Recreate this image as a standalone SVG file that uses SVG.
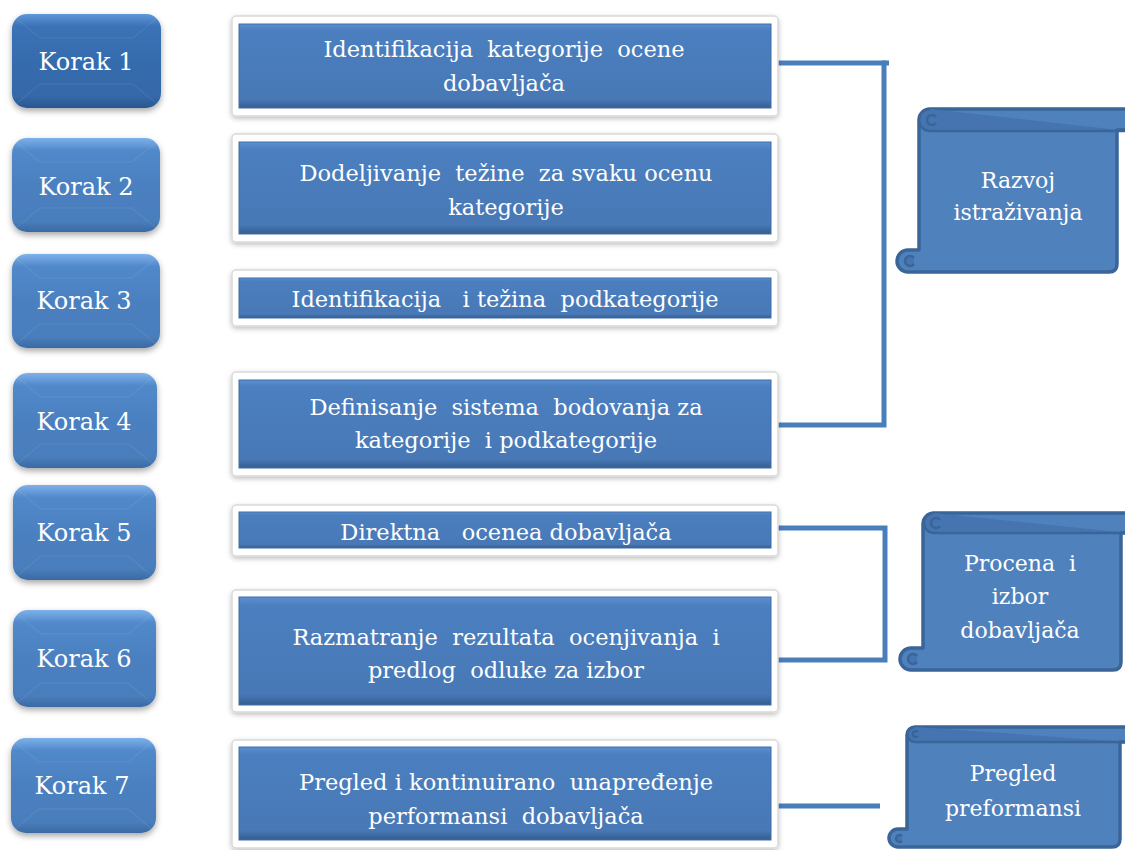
<svg xmlns="http://www.w3.org/2000/svg" width="1125" height="850" viewBox="0 0 1125 850">
  <defs>
    <linearGradient id="stepFill" x1="0" y1="0" x2="0" y2="1">
      <stop offset="0" stop-color="#7db1ea"/>
      <stop offset="0.13" stop-color="#5189ca"/>
      <stop offset="0.5" stop-color="#4b80c0"/>
      <stop offset="0.88" stop-color="#4a7ebd"/>
      <stop offset="1" stop-color="#3b6aa3"/>
    </linearGradient>
    <linearGradient id="stepFillActive" x1="0" y1="0" x2="0" y2="1">
      <stop offset="0" stop-color="#5f97db"/>
      <stop offset="0.13" stop-color="#3b72b6"/>
      <stop offset="0.5" stop-color="#356cae"/>
      <stop offset="0.88" stop-color="#3468a8"/>
      <stop offset="1" stop-color="#2a578e"/>
    </linearGradient>
    <linearGradient id="barFill" x1="0" y1="0" x2="0" y2="1">
      <stop offset="0" stop-color="#5b8fcf"/>
      <stop offset="0.08" stop-color="#4b7fbf"/>
      <stop offset="0.9" stop-color="#4878b6"/>
      <stop offset="1" stop-color="#345d91"/>
    </linearGradient>
    <filter id="shadow" x="-10%" y="-10%" width="120%" height="130%">
      <feDropShadow dx="0" dy="3" stdDeviation="3" flood-color="#000" flood-opacity="0.35"/>
    </filter>
    <filter id="softShadow" x="-5%" y="-10%" width="110%" height="130%">
      <feDropShadow dx="0" dy="2" stdDeviation="2.5" flood-color="#000" flood-opacity="0.25"/>
    </filter>
    <style>
      .step { fill: url(#stepFill); filter: url(#shadow); }
      .step.active { fill: url(#stepFillActive); }
      .facet { fill: none; stroke: #ffffff; stroke-opacity: 0.06; stroke-width: 1.5; }
      .frame { fill: #ffffff; stroke: #d9d9d9; stroke-width: 1.5; filter: url(#softShadow); }
      .bar { fill: url(#barFill); stroke: #3f6fa8; stroke-width: 1; }
      .lbl { fill: #ffffff; text-anchor: middle; font-family: "DejaVu Serif", "Liberation Serif", serif; }
      .k { font-size: 24px; }
      .m { font-size: 22.5px; }
      .s { font-size: 22px; }
      .wire { fill: none; stroke: #4a7ebb; stroke-width: 5; stroke-linejoin: miter; }
      .scroll { fill: #4f81bd; stroke: #3a6598; stroke-width: 3.5; stroke-linejoin: round; }
      .curl { fill: #4574b0; stroke: #3a6598; stroke-width: 2.5; }
    </style>
  </defs>

  <rect width="1125" height="850" fill="#ffffff"/>

  <!-- connectors: brackets joining the step bars to the phase scrolls -->
  <g id="connectors">
    <polyline class="wire" points="776,63 884,63 884,425 776,425"/>
    <line class="wire" x1="882" y1="63" x2="889" y2="63"/>
    <polyline class="wire" points="776,528 885,528 885,660 776,660"/>
    <line class="wire" x1="776" y1="806" x2="880" y2="806"/>
  </g>

  <!-- step buttons -->
  <g id="korak1">
    <rect class="step active" x="12" y="14" width="149" height="94" rx="15"/>
    <path class="facet" d="M16,18 L40,38 L133,38 L157,18 M16,104 L40,84 L133,84 L157,104"/>
    <text class="lbl k" x="86" y="70">Korak 1</text>
  </g>
  <g id="korak2">
    <rect class="step" x="12" y="138" width="148" height="94" rx="15"/>
    <path class="facet" d="M16,142 L40,162 L132,162 L156,142 M16,228 L40,208 L132,208 L156,228"/>
    <text class="lbl k" x="86" y="195">Korak 2</text>
  </g>
  <g id="korak3">
    <rect class="step" x="12" y="254" width="148" height="94" rx="15"/>
    <path class="facet" d="M16,258 L40,278 L132,278 L156,258 M16,344 L40,324 L132,324 L156,344"/>
    <text class="lbl k" x="84" y="309">Korak 3</text>
  </g>
  <g id="korak4">
    <rect class="step" x="13" y="373" width="144" height="95" rx="15"/>
    <path class="facet" d="M17,377 L41,397 L129,397 L153,377 M17,464 L41,444 L129,444 L153,464"/>
    <text class="lbl k" x="84" y="430">Korak 4</text>
  </g>
  <g id="korak5">
    <rect class="step" x="13" y="485" width="143" height="95" rx="15"/>
    <path class="facet" d="M17,489 L41,509 L128,509 L152,489 M17,576 L41,556 L128,556 L152,576"/>
    <text class="lbl k" x="84" y="541">Korak 5</text>
  </g>
  <g id="korak6">
    <rect class="step" x="13" y="610" width="143" height="97" rx="15"/>
    <path class="facet" d="M17,614 L41,634 L128,634 L152,614 M17,703 L41,683 L128,683 L152,703"/>
    <text class="lbl k" x="84" y="667">Korak 6</text>
  </g>
  <g id="korak7">
    <rect class="step" x="11" y="738" width="145" height="95" rx="15"/>
    <path class="facet" d="M15,742 L39,762 L128,762 L152,742 M15,829 L39,809 L128,809 L152,829"/>
    <text class="lbl k" x="82" y="794">Korak 7</text>
  </g>

  <!-- activity bars -->
  <g id="bar1">
    <rect class="frame" x="232" y="16" width="546" height="100" rx="4"/>
    <rect class="bar" x="239" y="24" width="532" height="84"/>
    <text class="lbl m" x="504" y="57" xml:space="preserve">Identifikacija  kategorije  ocene</text>
    <text class="lbl m" x="504" y="91">dobavljača</text>
  </g>
  <g id="bar2">
    <rect class="frame" x="232" y="134" width="546" height="108" rx="4"/>
    <rect class="bar" x="239" y="142" width="532" height="92"/>
    <text class="lbl m" x="506" y="181" xml:space="preserve">Dodeljivanje  težine  za svaku ocenu</text>
    <text class="lbl m" x="506" y="215">kategorije</text>
  </g>
  <g id="bar3">
    <rect class="frame" x="232" y="270" width="546" height="56" rx="4"/>
    <rect class="bar" x="239" y="278" width="532" height="40"/>
    <text class="lbl m" x="505" y="307" xml:space="preserve">Identifikacija   i težina  podkategorije</text>
  </g>
  <g id="bar4">
    <rect class="frame" x="232" y="372" width="546" height="104" rx="4"/>
    <rect class="bar" x="239" y="380" width="532" height="88"/>
    <text class="lbl m" x="506" y="415" xml:space="preserve">Definisanje  sistema  bodovanja za</text>
    <text class="lbl m" x="506" y="448" xml:space="preserve">kategorije  i podkategorije</text>
  </g>
  <g id="bar5">
    <rect class="frame" x="232" y="505" width="546" height="51" rx="4"/>
    <rect class="bar" x="239" y="512" width="532" height="36"/>
    <text class="lbl m" x="506" y="540" xml:space="preserve">Direktna   ocenea dobavljača</text>
  </g>
  <g id="bar6">
    <rect class="frame" x="232" y="590" width="546" height="122" rx="4"/>
    <rect class="bar" x="239" y="597" width="532" height="108"/>
    <text class="lbl m" x="506" y="645" xml:space="preserve">Razmatranje  rezultata  ocenjivanja  i</text>
    <text class="lbl m" x="506" y="678" xml:space="preserve">predlog  odluke za izbor</text>
  </g>
  <g id="bar7">
    <rect class="frame" x="232" y="740" width="546" height="108" rx="4"/>
    <rect class="bar" x="239" y="747" width="532" height="93"/>
    <text class="lbl m" x="506" y="790" xml:space="preserve">Pregled i kontinuirano  unapređenje</text>
    <text class="lbl m" x="506" y="824" xml:space="preserve">performansi  dobavljača</text>
  </g>

  <!-- phase scrolls -->
  <g id="scroll1">
    <path class="scroll" d="M1117,130 L1117,264 Q1117,272 1109,272 L908,272 A11,11 0 0 1 908,250 L919,250 L919,120 A11,11 0 0 1 930,109 L1127,109 L1127,130 Z"/>
    <path class="curl" d="M930,109 A11,11 0 0 0 930,131 L1127,131"/>
    <path class="curl" d="M936,117 A5,5 0 1 0 936,123" fill="none"/>
    <path class="curl" d="M914,258 A5,5 0 1 0 914,264" fill="none"/>
    <text class="lbl s" x="1018" y="188">Razvoj</text>
    <text class="lbl s" x="1018" y="220">istraživanja</text>
  </g>
  <g id="scroll2">
    <path class="scroll" d="M1121,533 L1121,662 Q1121,670 1113,670 L911,670 A11,11 0 0 1 911,648 L923,648 L923,524 A11,11 0 0 1 934,513 L1127,513 L1127,533 Z"/>
    <path class="curl" d="M934,513 A10,10 0 0 0 934,533 L1127,533"/>
    <path class="curl" d="M940,520 A5,5 0 1 0 940,526" fill="none"/>
    <path class="curl" d="M917,656 A5,5 0 1 0 917,662" fill="none"/>
    <text class="lbl s" x="1020" y="571" xml:space="preserve">Procena  i</text>
    <text class="lbl s" x="1020" y="604">izbor</text>
    <text class="lbl s" x="1020" y="638">dobavljača</text>
  </g>
  <g id="scroll3">
    <path class="scroll" d="M1120,742 L1120,839 Q1120,847 1112,847 L898,847 A9,9 0 0 1 898,829 L907,829 L907,735 A8,8 0 0 1 915,727 L1127,727 L1127,742 Z"/>
    <path class="curl" d="M915,727 A7.5,7.5 0 0 0 915,742 L1127,742"/>
    <path class="curl" d="M918,732 A3,3 0 1 0 918,736" fill="none"/>
    <path class="curl" d="M902,836 A3.5,3.5 0 1 0 902,841" fill="none"/>
    <text class="lbl s" x="1013" y="781">Pregled</text>
    <text class="lbl s" x="1013" y="816">preformansi</text>
  </g>
</svg>
